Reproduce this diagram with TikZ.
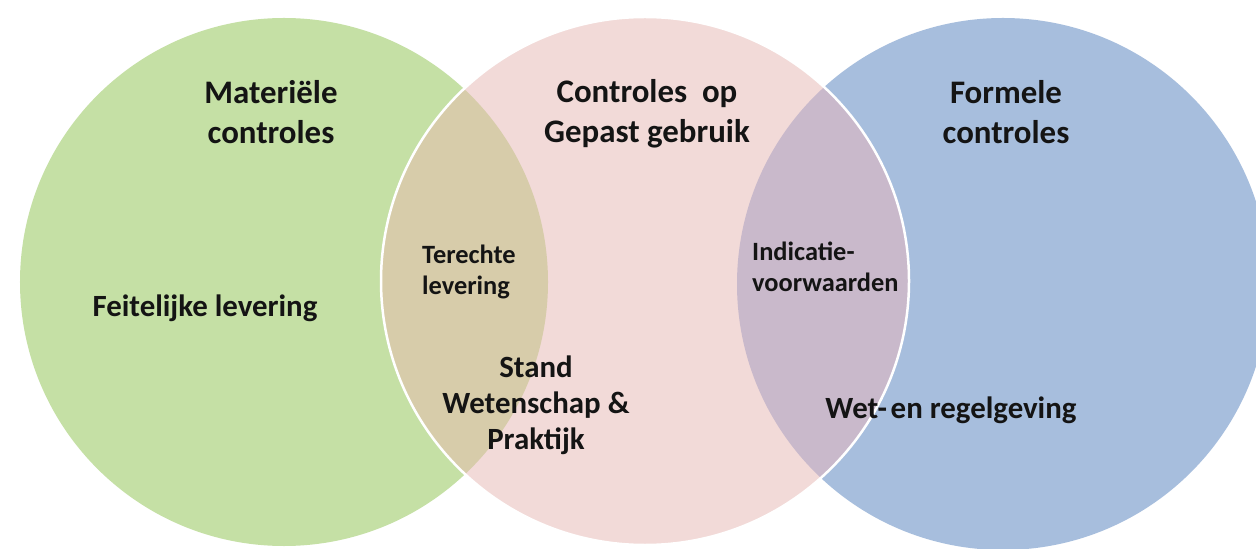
\documentclass[tikz,border=0pt]{standalone}
\usepackage{fontspec}
\setmainfont{Carlito}
\definecolor{cgreen}{HTML}{C5E0A5}
\definecolor{cpink}{HTML}{F2DAD8}
\definecolor{cblue}{HTML}{A7BEDD}
\definecolor{colive}{HTML}{D7CCAA}
\definecolor{cpurple}{HTML}{C9B9CB}
\definecolor{ctext}{HTML}{141414}
\tikzset{
  lbl/.style={inner sep=0pt, text=ctext, font=\bfseries},
  title/.style={lbl, align=center, font=\fontsize{33}{40}\selectfont\bfseries},
  mid/.style={lbl, font=\fontsize{31}{36}\selectfont\bfseries},
  small/.style={lbl, align=left, anchor=west, font=\fontsize{26.5}{31}\selectfont\bfseries},
}
\begin{document}
\begin{tikzpicture}[x=1bp,y=-1bp]
\useasboundingbox (0,0) rectangle (1256,549);
\fill[white] (0,0) rectangle (1256,549);
% circles
\fill[cgreen] (284,282) circle[radius=264bp];
\fill[cblue] (1003,284) circle[radius=266bp];
\fill[cpink] (645,281) circle[radius=264bp];
\begin{scope}
  \clip (645,281) circle[radius=264bp];
  \fill[colive] (284,282) circle[radius=264bp];
  \fill[cpurple] (1003,284) circle[radius=266bp];
\end{scope}
\draw[white, line width=2.5bp] (645,281) circle[radius=264bp];
% titles
\node[title] (mat) at (271,112) {Materiële\\controles};
\node[title] (gep) at (647,114) {Controles\ \ op\\Gepast gebruik};
\node[title] (for) at (1006,112) {Formele\\controles};
% other labels
\node[mid, anchor=base] (fei) at (205,317) {Feitelijke levering};
\node[small] (ter) at (422,272) {Terechte\\levering};
\node[small] (ind) at (752,267) {Indicatie-\\voorwaarden};
\node[mid, align=center] (sta) at (536,405) {Stand\\Wetenschap \&\\Praktijk};
\node[mid, anchor=base] (wet) at (951,418) {Wet-\hspace{0.12em}en regelgeving};
\end{tikzpicture}
\end{document}
